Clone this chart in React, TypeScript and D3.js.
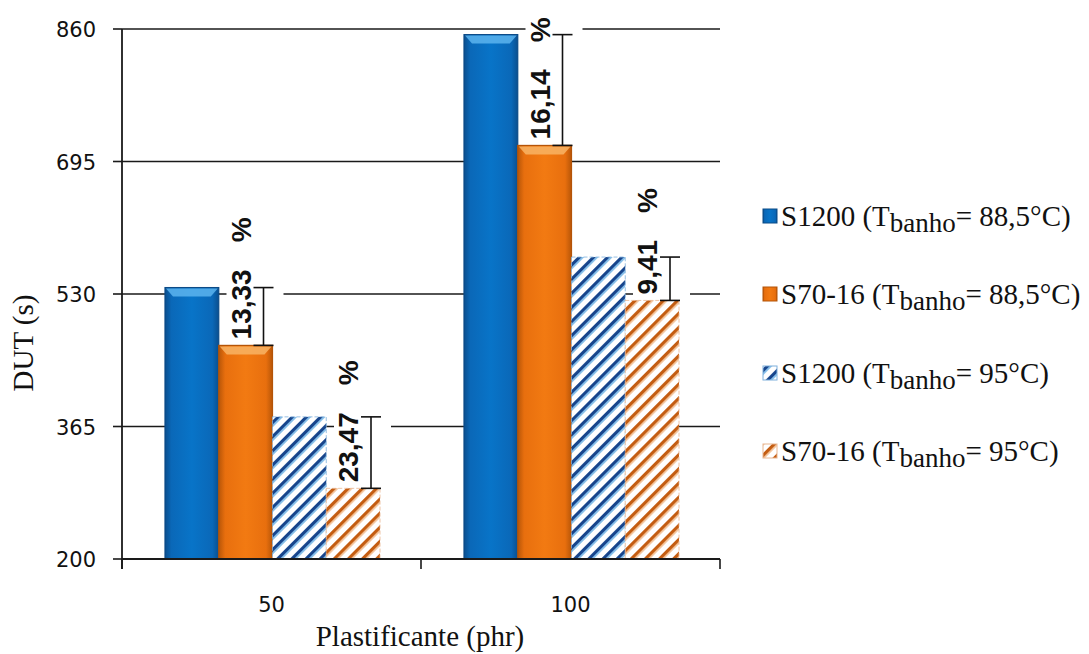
import React from "react";
import * as d3 from "d3";

const categories = ["50", "100"];
const seriesKeys = ["s1200_885", "s7016_885", "s1200_95", "s7016_95"];
const s1200_885 = [538, 853];
const s7016_885 = [466, 715];
const s1200_95 = [377, 576];
const s7016_95 = [288, 522];
const yTicks = [200, 365, 530, 695, 860];
const legendMain = ["S1200 (T", "S70-16 (T", "S1200 (T", "S70-16 (T"];
const legendTail = ["= 88,5°C)", "= 88,5°C)", "= 95°C)", "= 95°C)"];
const annotCats = ["50", "50", "100", "100"];
const annotLabels = ["13,33", "23,47", "16,14", "9,41"];
const annotRef = [0, 2, 0, 2];
const annotComp = [1, 3, 1, 3];

const seriesValues = [s1200_885, s7016_885, s1200_95, s7016_95];

const SERIF = "'Liberation Serif', 'Times New Roman', Times, serif";
const SANS = "'DejaVu Sans', Verdana, sans-serif";
const BOLD = "'Liberation Sans', Arial, sans-serif";

export default function App() {
  const W = 1089, H = 654;
  const y = d3.scaleLinear().domain([200, 860]).range([559, 29]);
  const x0 = d3.scaleBand<string>().domain(categories).range([122, 720]).padding(0);
  const x1 = d3.scaleBand<string>().domain(seriesKeys).range([43, 258]).padding(0);
  const bw = x1.bandwidth();
  const base = y(200);

  const fills = ["url(#gBlue)", "url(#gOrange)", "url(#hBlue)", "url(#hOrange)"];
  const bevel = ["#5cb4ee", "#f8b465", null, null];
  const edge = ["#0b4a86", "#b45408", "#7fb0dc", "#e8b590"];

  const bars: any[] = [];
  categories.forEach((c, ci) => {
    seriesKeys.forEach((k, si) => {
      const v = seriesValues[si][ci];
      const bx = (x0(c) as number) + (x1(k) as number);
      const by = y(v);
      bars.push({ bx, by, h: base - by, si, key: c + k });
    });
  });

  const annots = annotLabels.map((lab, i) => {
    const c = annotCats[i];
    const ci = categories.indexOf(c);
    const refV = seriesValues[annotRef[i]][ci];
    const compV = seriesValues[annotComp[i]][ci];
    const right = (x0(c) as number) + (x1(seriesKeys[annotComp[i]]) as number) + bw;
    const bxl = right - 9;
    return { lab, bxl, yt: y(refV), yb: y(compV), i };
  });

  const legendY = [216, 294, 373, 451];

  return (
    <svg width={W} height={H} style={{ position: "absolute", left: 0, top: 0, background: "#fff" }}>
      <defs>
        <linearGradient id="gBlue" x1="0" x2="1" y1="0" y2="0">
          <stop offset="0" stopColor="#0a4f8f" />
          <stop offset="0.12" stopColor="#0a68b8" />
          <stop offset="0.5" stopColor="#0874c8" />
          <stop offset="0.88" stopColor="#0a68b8" />
          <stop offset="1" stopColor="#0a4f8f" />
        </linearGradient>
        <linearGradient id="gOrange" x1="0" x2="1" y1="0" y2="0">
          <stop offset="0" stopColor="#b85608" />
          <stop offset="0.12" stopColor="#e86f0e" />
          <stop offset="0.5" stopColor="#f27a12" />
          <stop offset="0.88" stopColor="#e86f0e" />
          <stop offset="1" stopColor="#b85608" />
        </linearGradient>
        <pattern id="hBlue" width="10" height="10" patternUnits="userSpaceOnUse" patternTransform="rotate(45)">
          <rect width="10" height="10" fill="#fff" />
          <rect x="0" width="3.2" height="10" fill="#17458c" />
          <rect x="3.2" width="1.6" height="10" fill="#6fb3e6" />
        </pattern>
        <pattern id="hOrange" width="10" height="10" patternUnits="userSpaceOnUse" patternTransform="rotate(45)">
          <rect width="10" height="10" fill="#fff" />
          <rect x="0" width="3.2" height="10" fill="#c45d12" />
          <rect x="3.2" width="1.4" height="10" fill="#f0b07a" />
        </pattern>
      </defs>

      {/* gridlines */}
      {yTicks.filter((t) => t !== 200).map((t) => (
        <line key={"g" + t} x1={122} x2={720} y1={y(t)} y2={y(t)} stroke="#1a1a1a" strokeWidth={1.6} />
      ))}

      {/* label background boxes */}
      {annots.map((a) => (
        <rect key={"bg" + a.i} x={a.bxl - 37} y={a.yt - 90} width={57} height={a.yb - a.yt + 90} fill="#fff" />
      ))}

      {/* bars */}
      {bars.map((b) => (
        <g key={b.key}>
          <rect x={b.bx} y={b.by} width={bw} height={b.h} fill={fills[b.si]} stroke={edge[b.si]} strokeWidth={b.si < 2 ? 1.2 : 0.8}
            strokeDasharray={b.si >= 2 ? "4 2" : undefined} />
          {bevel[b.si] && (
            <polygon
              points={`${b.bx + 1},${b.by + 1} ${b.bx + bw - 1},${b.by + 1} ${b.bx + bw - 8},${b.by + 9} ${b.bx + 8},${b.by + 9}`}
              fill={bevel[b.si] as string}
              opacity={0.85}
            />
          )}
        </g>
      ))}

      {/* axes */}
      <line x1={122} x2={122} y1={y(860)} y2={569} stroke="#1a1a1a" strokeWidth={1.8} />
      {yTicks.map((t) => (
        <g key={"yt" + t}>
          <line x1={113} x2={122} y1={y(t)} y2={y(t)} stroke="#1a1a1a" strokeWidth={1.6} />
          <text x={96} y={y(t) + 8} textAnchor="end" fontFamily={SANS} fontSize={21} fill="#111">
            {t}
          </text>
        </g>
      ))}
      <line x1={122} x2={720} y1={base} y2={base} stroke="#1a1a1a" strokeWidth={1.8} />
      {[0, 1, 2].map((i) => {
        const tx = i < 2 ? (x0(categories[i]) as number) : (x0(categories[1]) as number) + x0.bandwidth();
        return <line key={"xt" + i} x1={tx} x2={tx} y1={base} y2={569} stroke="#1a1a1a" strokeWidth={1.6} />;
      })}
      {categories.map((c) => (
        <text key={"xl" + c} x={(x0(c) as number) + x0.bandwidth() / 2} y={612} textAnchor="middle"
          fontFamily={SANS} fontSize={21} fill="#111">
          {c}
        </text>
      ))}

      {/* brackets and labels */}
      {annots.map((a) => (
        <g key={"an" + a.i}>
          <line x1={a.bxl} x2={a.bxl} y1={a.yt} y2={a.yb} stroke="#111" strokeWidth={1.6} />
          <line x1={a.bxl - 10} x2={a.bxl + 10} y1={a.yt} y2={a.yt} stroke="#111" strokeWidth={1.6} />
          <line x1={a.bxl - 10} x2={a.bxl + 10} y1={a.yb} y2={a.yb} stroke="#111" strokeWidth={1.6} />
          <text transform={`translate(${a.bxl - 13},${a.yb - 6}) rotate(-90)`} fontFamily={BOLD}
            fontWeight="bold" fontSize={28} fill="#111">
            {a.lab}
            <tspan dx={27}>%</tspan>
          </text>
        </g>
      ))}

      {/* axis titles */}
      <text transform="translate(33,343) rotate(-90)" textAnchor="middle" fontFamily={SERIF} fontSize={29} fill="#111">
        DUT (s)
      </text>
      <text x={420} y={646} textAnchor="middle" fontFamily={SERIF} fontSize={29} fill="#111">
        Plastificante (phr)
      </text>

      {/* legend */}
      {legendMain.map((m, i) => (
        <g key={"lg" + i}>
          <rect x={763} y={legendY[i] - 7} width={14} height={14} fill={fills[i]} stroke={edge[i]} strokeWidth={1} />
          <text x={781} y={legendY[i] + 10} fontFamily={SERIF} fontSize={29} fill="#111">
            {m}
            <tspan dy={6} fontSize={27}>banho</tspan>
            <tspan dy={-6}>{legendTail[i]}</tspan>
          </text>
        </g>
      ))}
    </svg>
  );
}
